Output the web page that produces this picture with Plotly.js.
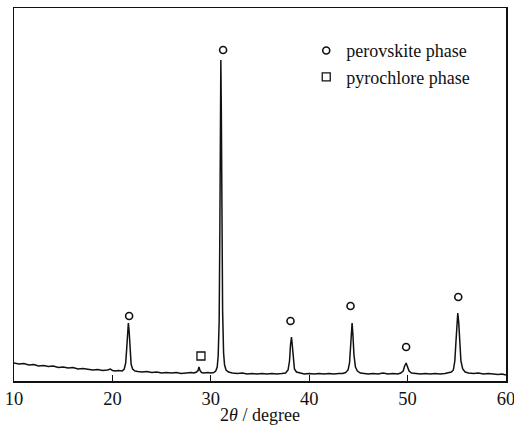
<!DOCTYPE html>
<html>
<head>
<meta charset="utf-8">
<script src="https://cdn.plot.ly/plotly-3.0.1.min.js"></script>
<style>html,body{margin:0;padding:0;background:#fff;}#chart{width:514px;height:426px;}</style>
</head>
<body>
<div id="chart"></div>
<script>
// XRD pattern (2θ in degrees, intensity in arbitrary units)
const twoTheta = [
  10.0, 10.5, 11.0, 11.5, 12.0, 12.5, 13.0, 13.5, 14.0, 14.5, 15.0, 15.5, 16.0, 16.5, 17.0, 17.5, 18.0, 18.5, 19.0, 19.5,
  19.8, 20.0, 20.3, 20.6, 21.0, 21.2, 21.35, 21.45, 21.55, 21.62, 21.7, 21.8, 21.9, 22.05, 22.3, 22.6, 23.0, 23.5, 24.0, 24.5,
  25.0, 25.5, 26.0, 26.5, 27.0, 27.5, 28.0, 28.3, 28.55, 28.7, 28.8, 28.9, 29.05, 29.3, 29.7, 30.0, 30.3, 30.5, 30.65, 30.75,
  30.85, 30.92, 30.97, 31.02, 31.07, 31.12, 31.2, 31.3, 31.4, 31.55, 31.8, 32.2, 32.7, 33.2, 33.7, 34.2, 34.7, 35.2, 35.7, 36.2,
  36.7, 37.2, 37.6, 37.85, 38.0, 38.1, 38.2, 38.28, 38.38, 38.5, 38.7, 39.0, 39.5, 40.0, 40.5, 41.0, 41.5, 42.0, 42.5, 43.0,
  43.4, 43.7, 43.95, 44.1, 44.2, 44.3, 44.36, 44.45, 44.55, 44.7, 44.9, 45.2, 45.6, 46.0, 46.5, 47.0, 47.5, 48.0, 48.5, 49.0,
  49.3, 49.55, 49.7, 49.85, 50.0, 50.15, 50.4, 50.8, 51.3, 51.8, 52.3, 52.8, 53.3, 53.8, 54.2, 54.45, 54.65, 54.8, 54.92, 55.02,
  55.1, 55.2, 55.3, 55.42, 55.6, 55.85, 56.2, 56.7, 57.2, 57.7, 58.2, 58.7, 59.2, 59.6, 60.0
];
const intensity = [
  18, 17, 17.5, 16, 16.5, 15, 15.5, 14.5, 15, 13.5, 14, 13, 13.5, 12, 12.5, 11.5, 11, 11.5, 10.5, 11,
  12, 10.5, 10, 10.5, 10, 12, 18, 32, 52, 58, 50, 30, 17, 12, 10, 9.5, 9, 9.5, 8.5, 9,
  8, 8.5, 8, 8.5, 7.5, 8, 8.5, 8, 9, 10.5, 14, 10.5, 8.5, 8, 8.5, 8, 8.5, 10, 14, 25,
  60, 150, 260, 321, 270, 160, 70, 28, 16, 11, 9, 8, 7.5, 8, 7, 7.5, 7, 7.5, 7, 7.5,
  7, 7.5, 8, 11, 20, 36, 44, 36, 20, 12, 9, 8, 7, 7.5, 7, 7.5, 7, 7.5, 7, 7.5,
  7.5, 8.5, 11, 18, 35, 55, 58, 45, 26, 14, 10, 8, 7.5, 7, 7.5, 7, 8, 7, 7.5, 7,
  8, 10, 15, 18, 14, 10, 8, 7.5, 7, 7.5, 7, 7.5, 7, 7.5, 8, 9, 11, 20, 40, 62,
  68, 58, 36, 20, 12, 9, 8, 7.5, 8, 7, 7.5, 7, 6.5, 7, 6
];

// phase markers above the peaks
const perovskiteX = [21.7, 31.25, 38.1, 44.2, 49.85, 55.15];
const perovskiteY = [65, 331, 60, 75, 34, 84];
const pyrochloreX = [29.0];
const pyrochloreY = [25];

const xTicks = [10, 20, 30, 40, 50, 60];
const serif = "Liberation Serif";

const traces = [
  {
    x: twoTheta, y: intensity, type: "scatter", mode: "lines",
    line: {color: "#111", width: 1.5}, showlegend: false, hoverinfo: "skip"
  },
  {
    x: perovskiteX, y: perovskiteY, type: "scatter", mode: "markers", name: "perovskite phase",
    marker: {symbol: "circle-open", size: 7, color: "#111", line: {width: 1.6, color: "#111"}}
  },
  {
    x: pyrochloreX, y: pyrochloreY, type: "scatter", mode: "markers", name: "pyrochlore phase",
    marker: {symbol: "square-open", size: 8, color: "#111", line: {width: 1.3, color: "#111"}}
  }
];

const layout = {
  width: 514, height: 426,
  margin: {l: 13.5, r: 8, t: 8, b: 45},
  paper_bgcolor: "#fff", plot_bgcolor: "#fff",
  font: {family: serif, color: "#111", size: 18},
  xaxis: {
    range: [9.999, 60.001], tickvals: xTicks, ticktext: xTicks.map(String),
    ticks: "inside", ticklen: 6, tickwidth: 1.2, tickcolor: "#111",
    showline: true, linewidth: 1.5, linecolor: "#111", mirror: true,
    showgrid: false, zeroline: false, ticklabeloverflow: "allow",
    tickfont: {family: serif, size: 18.5, color: "#111"},
    title: {text: "2<i>θ</i> / degree", font: {family: serif, size: 18, color: "#111"}, standoff: 0}
  },
  yaxis: {
    range: [0, 373], showticklabels: false, ticks: "",
    showline: true, linewidth: 1.5, linecolor: "#111", mirror: true,
    showgrid: false, zeroline: false
  },
  legend: {
    x: 0.594, y: 0.935, xanchor: "left", yanchor: "top",
    bgcolor: "rgba(0,0,0,0)", borderwidth: 0,
    font: {family: serif, size: 18, color: "#111"},
    itemwidth: 30, tracegroupgap: 0
  }
};

Plotly.newPlot("chart", traces, layout, {displayModeBar: false, staticPlot: true});
</script>
</body>
</html>
